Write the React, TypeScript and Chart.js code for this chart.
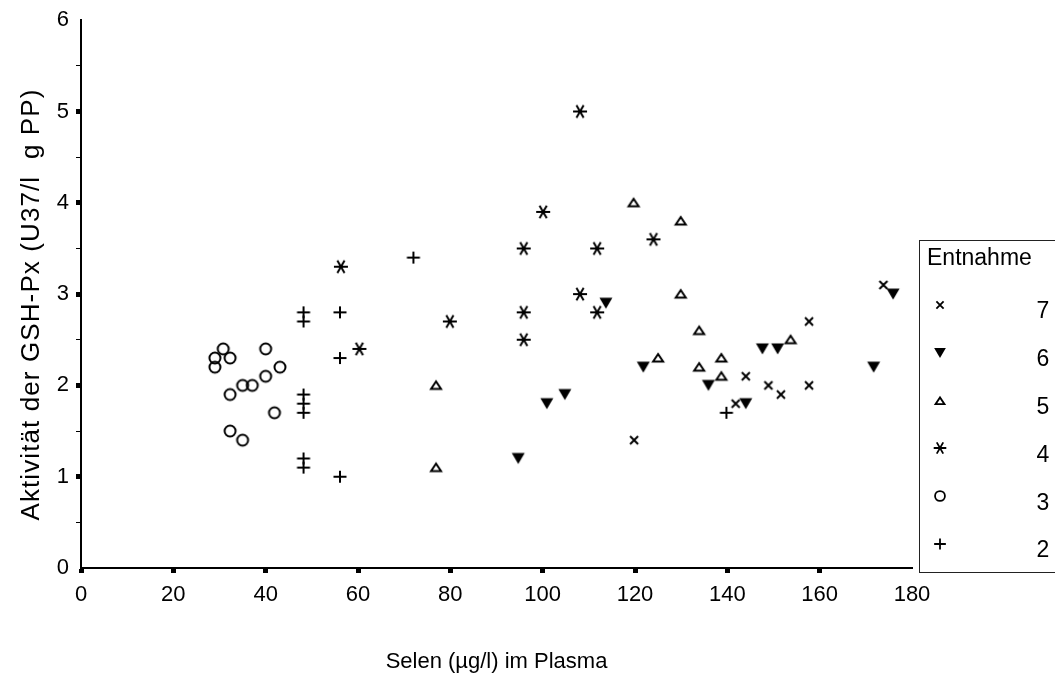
import React, { useEffect, useRef } from "react";
import { Chart, registerables } from "chart.js";

Chart.register(...registerables);

// Series labels (Entnahme), in legend order
const seriesLabels = ["7", "6", "5", "4", "3", "2"];
const markerKinds = ["x", "down", "up", "star", "circle", "plus"];

// Entnahme 7 (x)
const s7x = [119.8, 157.7, 144.0, 148.9, 151.6, 157.7, 141.8, 173.8];
const s7y = [1.4, 2.7, 2.1, 2.0, 1.9, 2.0, 1.8, 3.1];
// Entnahme 6 (filled down triangle)
const s6x = [113.7, 121.8, 104.8, 100.9, 94.7, 135.9, 144.0, 147.6, 150.9, 171.7, 175.9];
const s6y = [2.9, 2.2, 1.9, 1.8, 1.2, 2.0, 1.8, 2.4, 2.4, 2.2, 3.0];
// Entnahme 5 (open up triangle)
const s5x = [119.7, 76.9, 76.9, 125.0, 129.9, 129.9, 133.9, 133.9, 138.7, 138.7, 153.7];
const s5y = [4.0, 2.0, 1.1, 2.3, 3.8, 3.0, 2.6, 2.2, 2.3, 2.1, 2.5];
// Entnahme 4 (asterisk)
const s4x = [108.1, 100.1, 95.9, 111.8, 108.1, 95.9, 111.8, 79.9, 95.9, 124.0, 56.3, 60.3];
const s4y = [5.0, 3.9, 3.5, 3.5, 3.0, 2.8, 2.8, 2.7, 2.5, 3.6, 3.3, 2.4];
// Entnahme 3 (circle)
const s3x = [29.0, 30.8, 32.3, 29.0, 40.0, 43.1, 40.0, 35.0, 37.1, 32.3, 41.9, 32.3, 35.0];
const s3y = [2.3, 2.4, 2.3, 2.2, 2.4, 2.2, 2.1, 2.0, 2.0, 1.9, 1.7, 1.5, 1.4];
// Entnahme 2 (plus)
const s2x = [48.2, 48.2, 56.1, 56.1, 48.2, 48.2, 48.2, 48.2, 48.2, 56.1, 72.0, 139.8];
const s2y = [2.8, 2.7, 2.8, 2.3, 1.9, 1.8, 1.7, 1.2, 1.1, 1.0, 3.4, 1.7];

const seriesX = [s7x, s6x, s5x, s4x, s3x, s2x];
const seriesY = [s7y, s6y, s5y, s4y, s3y, s2y];

const xTitle = "Selen (µg/l) im Plasma";
const yTitle = "Aktivität der GSH-Px (U37/l  g PP)";
const legendTitle = "Entnahme";

const FONT = "Arial, 'Liberation Sans', sans-serif";

function makeMarker(kind: string, scale: number): HTMLCanvasElement {
  const size = 20;
  const c = document.createElement("canvas");
  c.width = size;
  c.height = size;
  const ctx = c.getContext("2d") as CanvasRenderingContext2D;
  ctx.translate(size / 2, size / 2);
  ctx.scale(scale, scale);
  ctx.strokeStyle = "#000";
  ctx.fillStyle = "#000";
  ctx.lineWidth = 2;
  ctx.beginPath();
  if (kind === "x") {
    ctx.moveTo(-4, -4);
    ctx.lineTo(4, 4);
    ctx.moveTo(4, -4);
    ctx.lineTo(-4, 4);
    ctx.stroke();
  } else if (kind === "down") {
    ctx.moveTo(-6.5, -5.5);
    ctx.lineTo(6.5, -5.5);
    ctx.lineTo(0, 5.5);
    ctx.closePath();
    ctx.fill();
  } else if (kind === "up") {
    ctx.moveTo(-5, 3.5);
    ctx.lineTo(5, 3.5);
    ctx.lineTo(0, -4);
    ctx.closePath();
    ctx.stroke();
  } else if (kind === "star") {
    ctx.moveTo(-7, 0);
    ctx.lineTo(7, 0);
    ctx.moveTo(-3.6, -6.2);
    ctx.lineTo(3.6, 6.2);
    ctx.moveTo(3.6, -6.2);
    ctx.lineTo(-3.6, 6.2);
    ctx.stroke();
  } else if (kind === "circle") {
    ctx.arc(0, 0, 5.5, 0, Math.PI * 2);
    ctx.stroke();
  } else if (kind === "plus") {
    ctx.moveTo(-6.5, 0);
    ctx.lineTo(6.5, 0);
    ctx.moveTo(0, -6);
    ctx.lineTo(0, 6);
    ctx.stroke();
  }
  return c;
}

export default function App() {
  const ref = useRef<HTMLCanvasElement | null>(null);

  useEffect(() => {
    if (!ref.current) return;
    const plotMarkers = markerKinds.map((k) => makeMarker(k, 1));
    const legendMarkers = markerKinds.map((k) => makeMarker(k, 0.9));

    const legendPlugin = {
      id: "boxLegend",
      afterDraw(chart: any) {
        const ctx = chart.ctx as CanvasRenderingContext2D;
        ctx.save();
        ctx.strokeStyle = "#222";
        ctx.lineWidth = 1;
        ctx.strokeRect(919.5, 240.5, 200, 332);
        ctx.fillStyle = "#000";
        ctx.font = `23px ${FONT}`;
        ctx.textBaseline = "middle";
        ctx.textAlign = "left";
        ctx.fillText(legendTitle, 927, 259);
        chart.data.datasets.forEach((ds: any, i: number) => {
          const y = 305 + i * 47.8;
          ctx.drawImage(legendMarkers[i], 940 - 10, Math.round(y) - 10);
          ctx.textAlign = "center";
          ctx.fillText(ds.label, 1043, y + 7);
        });
        ctx.restore();

        // y-axis title
        ctx.save();
        ctx.fillStyle = "#000";
        ctx.font = `26px ${FONT}`;
        const anyCtx = ctx as any;
        anyCtx.letterSpacing = "0px";
        const w0 = ctx.measureText(yTitle).width;
        const target = 432;
        const ls = Math.max(0, (target - w0) / yTitle.length);
        anyCtx.letterSpacing = `${ls}px`;
        ctx.translate(32, 304 + ls / 2);
        ctx.rotate(-Math.PI / 2);
        ctx.textAlign = "center";
        ctx.textBaseline = "middle";
        ctx.fillText(yTitle, 0, 0);
        anyCtx.letterSpacing = "0px";
        ctx.restore();
      },
    };

    const transparent = "rgba(0,0,0,0)";
    const chart = new Chart(ref.current, {
      type: "scatter",
      data: {
        datasets: seriesLabels.map((label, i) => ({
          label,
          data: seriesX[i].map((x, j) => ({ x, y: seriesY[i][j] })),
          pointStyle: plotMarkers[i] as any,
          pointRadius: 7,
          pointHoverRadius: 7,
          showLine: false,
        })),
      },
      options: {
        responsive: false,
        animation: false,
        events: [],
        layout: { padding: { top: 20, right: 143, left: 0, bottom: 0 } },
        plugins: {
          legend: { display: false },
          tooltip: { enabled: false },
        },
        scales: {
          x: {
            type: "linear",
            min: 0,
            max: 180,
            ticks: {
              stepSize: 20,
              color: "#000",
              font: { family: FONT, size: 22 },
              padding: 9,
              maxRotation: 0,
              autoSkip: false,
            },
            grid: {
              drawOnChartArea: false,
              drawTicks: true,
              tickLength: 5,
              tickWidth: 5,
              tickColor: (c: any) => (c.tick && c.tick.value === 180 ? transparent : "#000"),
            },
            border: { color: "#000", width: 2 },
            title: {
              display: true,
              text: xTitle,
              color: "#000",
              font: { family: FONT, size: 22 },
              padding: { top: 0, bottom: 2 },
            },
            afterFit: (s: any) => {
              s.height = 109;
            },
          },
          y: {
            type: "linear",
            min: 0,
            max: 6,
            ticks: {
              stepSize: 0.5,
              color: "#000",
              font: { family: FONT, size: 22 },
              padding: 7,
              autoSkip: false,
              callback: (v: any) => (Number.isInteger(Number(v)) ? String(v) : ""),
            },
            grid: {
              drawOnChartArea: false,
              drawTicks: true,
              tickLength: 5,
              tickWidth: (c: any) => (c.tick && Number.isInteger(c.tick.value) ? 5 : 1),
              tickColor: (c: any) =>
                c.tick && (c.tick.value === 0 || c.tick.value === 6) ? transparent : "#000",
            },
            border: { color: "#000", width: 2 },
            title: { display: false, text: yTitle },
            afterFit: (s: any) => {
              s.width = 81;
            },
          },
        },
      },
      plugins: [legendPlugin],
    } as any);
    return () => chart.destroy();
  }, []);

  return (
    <div
      style={{
        position: "fixed",
        left: 0,
        top: 0,
        width: 1055,
        height: 677,
        background: "#fff",
        overflow: "hidden",
      }}
    >
      <canvas ref={ref} width={1055} height={677} style={{ width: 1055, height: 677, display: "block" }} />
    </div>
  );
}
